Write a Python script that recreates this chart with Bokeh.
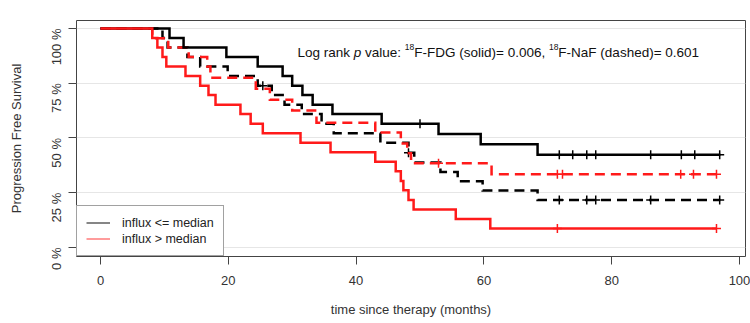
import math
from bokeh.plotting import figure
from bokeh.models import (Legend, LegendItem, FixedTicker, CustomJSTickFormatter,
                          ColumnDataSource, Range1d)
from bokeh.core.properties import value
from bokeh.embed import file_html
from bokeh.resources import INLINE

# ---------------- data (months, % progression free) ----------------
fdg_low_t = [0, 10.8, 13.0, 19.7, 24.6, 28.5, 30.0, 31.6, 33.2, 36.3, 44.0, 52.9, 59.5, 68.4]
fdg_low_s = [100, 95.7, 91.3, 87.0, 82.6, 78.3, 73.9, 69.6, 65.2, 60.9, 56.5, 51.8, 47.1, 42.4]
fdg_low_end = 97.0
fdg_low_cens = [50.0, 71.8, 73.9, 76.1, 77.5, 86.1, 90.9, 93.0, 96.9]

fdg_high_t = [0, 8.1, 8.9, 9.7, 10.3, 13.3, 15.6, 16.9, 18.0, 21.9, 23.5, 25.4, 31.3, 36.0,
              43.0, 46.2, 47.0, 47.4, 48.2, 49.0, 55.6, 61.0]
fdg_high_s = [100, 95.7, 91.3, 87.0, 82.6, 78.3, 73.9, 69.6, 65.2, 60.9, 56.5, 52.2, 47.8, 43.5,
              39.1, 34.8, 30.4, 26.1, 21.7, 17.4, 13.0, 8.7]
fdg_high_end = 96.4
fdg_high_cens = [71.5, 96.4]

naf_low_t = [0, 9.7, 10.5, 13.6, 15.6, 19.9, 24.6, 26.8, 28.8, 31.5, 34.6, 36.5, 43.8, 48.2,
             49.1, 53.2, 55.9, 59.8, 68.4]
naf_low_s = [100, 95.7, 91.3, 87.0, 82.6, 78.3, 73.9, 69.6, 65.2, 60.9, 56.5, 52.2, 47.8, 43.3,
             38.8, 34.5, 30.3, 26.0, 21.7]
naf_low_end = 97.0
naf_low_cens = [25.4, 48.2, 71.8, 76.1, 77.5, 86.1, 96.9]

naf_high_t = [0, 8.1, 10.6, 13.8, 16.7, 17.2, 24.3, 26.5, 30.0, 33.8, 43.0, 47.0, 48.0, 48.6, 61.2]
naf_high_s = [100, 95.6, 91.3, 87.0, 82.6, 77.5, 72.5, 67.5, 62.5, 57.0, 52.5, 47.5, 43.0, 38.5, 33.5]
naf_high_end = 96.4
naf_high_cens = [52.9, 71.5, 72.3, 90.8, 92.8, 96.4]

x_ticks = [0, 20, 40, 60, 80, 100]
y_ticks = [0, 25, 50, 75, 100]
legend_labels = ["influx <= median", "influx > median"]
x_title = "time since therapy (months)"
y_title = "Progression Free Survival"
note_parts = ["Log rank", "p", "value:", "18", "F-FDG (solid)= 0.006,", "18", "F-NaF (dashed)= 0.601"]

# ---------------- figure ----------------
p = figure(width=750, height=323, output_backend="svg", toolbar_location=None,
           x_range=Range1d(-3.756, 100.94), y_range=Range1d(-4.11, 103.65),
           min_border_left=76, min_border_right=5, min_border_top=20, min_border_bottom=67)
p.background_fill_color = "white"
p.border_fill_color = "white"
p.outline_line_color = "#444444"
p.outline_line_width = 1

p.xgrid.visible = False
p.ygrid.ticker = FixedTicker(ticks=y_ticks)
p.ygrid.grid_line_color = "#e6e6e6"
p.ygrid.grid_line_width = 1

AXIS_FONT = "Liberation Sans"
for ax in (p.xaxis[0], p.yaxis[0]):
    ax.axis_line_color = None
    ax.major_tick_line_color = "#444444"
    ax.major_tick_out = 8
    ax.major_tick_in = 0
    ax.minor_tick_line_color = None
    ax.major_label_text_font = AXIS_FONT
    ax.major_label_text_font_size = "13px"
    ax.major_label_text_color = "#333333"
    ax.axis_label_text_font = AXIS_FONT
    ax.axis_label_text_font_size = "13px"
    ax.axis_label_text_font_style = "normal"
    ax.axis_label_text_color = "#333333"

p.xaxis[0].ticker = FixedTicker(ticks=x_ticks)
p.xaxis[0].major_label_standoff = 11
p.xaxis[0].axis_label = x_title
p.xaxis[0].axis_label_standoff = 14

p.yaxis[0].ticker = FixedTicker(ticks=y_ticks)
p.yaxis[0].formatter = CustomJSTickFormatter(code="return tick + ' %';")
p.yaxis[0].major_label_orientation = math.pi / 2
p.yaxis[0].major_label_standoff = 12
p.yaxis[0].axis_label = y_title
p.yaxis[0].axis_label_standoff = 15


def curve(t, s, end, cens, color, dash):
    xs = list(t) + [end]
    ys = list(s) + [s[-1]]
    src = ColumnDataSource(dict(x=xs, y=ys))
    p.step("x", "y", source=src, mode="after", line_color=color, line_width=2.5,
           line_dash=dash, line_join="miter")
    cy = []
    for c in cens:
        lvl = s[0]
        for ti, si in zip(t, s):
            if ti <= c:
                lvl = si
        cy.append(lvl)
    p.scatter(cens, cy, marker="cross", size=9, line_color=color, line_width=1.5)


curve(naf_low_t, naf_low_s, naf_low_end, naf_low_cens, "black", "10 6")
curve(naf_high_t, naf_high_s, naf_high_end, naf_high_cens, "#ff1a1a", "10 6")
curve(fdg_low_t, fdg_low_s, fdg_low_end, fdg_low_cens, "black", "solid")
curve(fdg_high_t, fdg_high_s, fdg_high_end, fdg_high_cens, "#ff1a1a", "solid")

# legend with thin sample lines
r_leg1 = p.line([-50, -49], [-50, -50], line_color="#444444", line_width=1.3)
r_leg2 = p.line([-50, -49], [-50, -50], line_color="#ff6666", line_width=1.3)
legend = Legend(items=[LegendItem(label=legend_labels[0], renderers=[r_leg1]),
                       LegendItem(label=legend_labels[1], renderers=[r_leg2])],
                location="bottom_left", margin=0, padding=9, spacing=1,
                glyph_width=24, glyph_height=15, label_height=15, label_standoff=12,
                label_text_font=AXIS_FONT, label_text_font_size="12.5px",
                label_text_color="#222222",
                border_line_color="#444444", border_line_width=1,
                background_fill_color="white", background_fill_alpha=1)
p.add_layout(legend)

# annotation text built from pieces (Arial metrics -> exact placement)
px_per_month = 6.39
px_per_pct = 2.19
def xd(px):
    return (px - 100) / px_per_month
def yd(px):
    return (247 - px) / px_per_pct

NOTE_FONT = "Liberation Sans"
fs = 13.5
sup_fs = 8.5
SPACE = 0.278
# advance (em) of each piece including the following space, None = superscript
widths_em = [3.891 + SPACE, 0.556 + SPACE, 2.668 + SPACE, None, 9.697 + SPACE, None, 10.421]
x0 = 297.0
base = 52.0
for i, part in enumerate(note_parts):
    sup = widths_em[i] is None
    p.text(x=[xd(x0)], y=[yd(base - 5 if sup else base)], text=[part],
           text_font=value(NOTE_FONT),
           text_font_size="%.1fpx" % (sup_fs if sup else fs),
           text_font_style="italic" if part == "p" else "normal",
           text_color="#111111", text_baseline="alphabetic", text_align="left")
    x0 += (1.112 * sup_fs) if sup else widths_em[i] * fs

open("out.html", "w").write(file_html(p, INLINE))
